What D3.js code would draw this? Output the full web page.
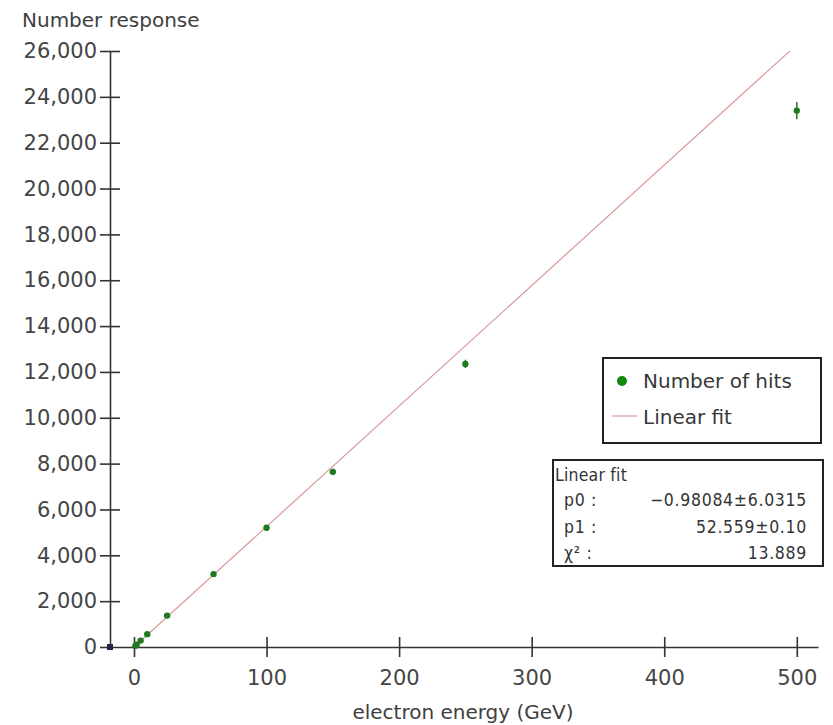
<!DOCTYPE html>
<html>
<head>
<meta charset="utf-8">
<script src="https://cdn.jsdelivr.net/npm/d3@7"></script>
<style>
  html, body { margin: 0; padding: 0; background: #fff; }
  svg { display: block; }
  .tick-label { font-family: "DejaVu Sans", sans-serif; font-size: 21px; fill: #454545; }
  .axis-title { font-family: "DejaVu Sans", sans-serif; font-size: 20px; fill: #404040; }
  .legend-text { font-family: "DejaVu Sans", sans-serif; font-size: 20px; fill: #383838; }
  .fit-text { font-family: "DejaVu Sans Condensed", "DejaVu Sans", sans-serif; font-stretch: condensed; font-size: 17.5px; letter-spacing: 0.7px; fill: #333; }
  .fit-title { letter-spacing: 0.2px; }
</style>
</head>
<body>
<svg id="chart" width="833" height="725"></svg>
<script>
// Beam energies (GeV) and measured number of hits with uncertainties
const energies = [1, 2, 5, 10, 25, 60, 100, 150, 250, 500];
const hits     = [50, 105, 280, 560, 1370, 3180, 5200, 7640, 12350, 23400];
const hitErrors = [10, 15, 25, 35, 60, 90, 110, 140, 180, 380];

// Linear fit parameters reported in the statistics box
const fitP0 = -0.98084, fitP0Err = 6.0315;
const fitP1 = 52.559, fitP1Err = 0.10;
const fitChi2 = 13.889;
const fitRange = [0, 500];

const xTicks = [0, 100, 200, 300, 400, 500];
const yTicks = [0, 2000, 4000, 6000, 8000, 10000, 12000, 14000, 16000, 18000, 20000, 22000, 24000, 26000];

const svg = d3.select("#chart");

const x = d3.scaleLinear().domain([-18.1, 516]).range([110, 818]);
const y = d3.scaleLinear().domain([0, 26000]).range([647, 51]);

const axisColor = "#333";
const fmt = d3.format(",");

// Plot area clip so the fit line stops at the top of the y range
svg.append("defs").append("clipPath").attr("id", "plot-area")
  .append("rect")
  .attr("x", x.range()[0]).attr("y", y.range()[1])
  .attr("width", x.range()[1] - x.range()[0])
  .attr("height", y.range()[0] - y.range()[1]);

// Y axis
const yAxis = svg.append("g").attr("transform", `translate(${x.range()[0]},0)`)
  .call(d3.axisLeft(y).tickValues(yTicks).tickSizeInner(10).tickSizeOuter(0).tickFormat(fmt));
yAxis.select(".domain").attr("stroke", axisColor).attr("stroke-width", 1.6);
yAxis.selectAll(".tick line").attr("stroke", axisColor).attr("stroke-width", 1.6).attr("x2", 10).attr("x1", -10);
yAxis.selectAll(".tick line").filter(d => d === 0).attr("x2", 0);
yAxis.selectAll(".tick text").attr("class", "tick-label").attr("x", -13).attr("font-size", null).attr("font-family", null);
yAxis.attr("font-size", null).attr("font-family", null);

// X axis
const xAxis = svg.append("g").attr("transform", `translate(0,${y(0)})`)
  .call(d3.axisBottom(x).tickValues(xTicks).tickSizeInner(10).tickSizeOuter(0).tickFormat(d3.format("d")));
xAxis.select(".domain").attr("stroke", axisColor).attr("stroke-width", 1.6);
xAxis.selectAll(".tick line").attr("stroke", axisColor).attr("stroke-width", 1.6).attr("y1", -10).attr("y2", 10);
xAxis.selectAll(".tick text").attr("class", "tick-label").attr("y", 23).attr("dy", "0.71em").attr("font-size", null).attr("font-family", null);
xAxis.attr("font-size", null).attr("font-family", null);

// Corner marker at the axes origin
svg.append("rect")
  .attr("x", x.range()[0] - 3).attr("y", y(0) - 3)
  .attr("width", 6).attr("height", 6)
  .attr("fill", "#22224a");

// Axis titles
svg.append("text").attr("class", "axis-title").attr("x", 22).attr("y", 27).text("Number response");
svg.append("text").attr("class", "axis-title").attr("x", 463).attr("y", 719)
  .attr("text-anchor", "middle").text("electron energy (GeV)");

// Linear fit line
const fitLine = d3.line().x(d => x(d)).y(d => y(fitP0 + fitP1 * d));
svg.append("path")
  .datum(fitRange)
  .attr("d", fitLine)
  .attr("clip-path", "url(#plot-area)")
  .attr("fill", "none")
  .attr("stroke", "#d99a9a")
  .attr("stroke-width", 1.2);

// Data points with error bars
const pts = energies.map((e, i) => ({ e, v: hits[i], err: hitErrors[i] }));
const pointColor = "#1f7a1f";
svg.append("g").selectAll("line").data(pts).join("line")
  .attr("x1", d => x(d.e)).attr("x2", d => x(d.e))
  .attr("y1", d => y(d.v - d.err)).attr("y2", d => y(d.v + d.err))
  .attr("stroke", pointColor).attr("stroke-width", 1.5);
svg.append("g").selectAll("circle").data(pts).join("circle")
  .attr("cx", d => x(d.e)).attr("cy", d => y(d.v))
  .attr("r", 3.2)
  .attr("fill", pointColor);

// Legend
const legend = svg.append("g");
legend.append("rect").attr("x", 603).attr("y", 358).attr("width", 218).attr("height", 85)
  .attr("fill", "#fff").attr("stroke", "#222").attr("stroke-width", 2);
legend.append("circle").attr("cx", 622).attr("cy", 381).attr("r", 5).attr("fill", "#108a10");
legend.append("text").attr("class", "legend-text").attr("x", 643).attr("y", 388).text("Number of hits");
legend.append("line").attr("x1", 612).attr("x2", 637).attr("y1", 416).attr("y2", 416)
  .attr("stroke", "#d99a9a").attr("stroke-width", 1.2);
legend.append("text").attr("class", "legend-text").attr("x", 643).attr("y", 424).text("Linear fit");

// Fit statistics box
const stats = svg.append("g");
stats.append("rect").attr("x", 553).attr("y", 460).attr("width", 270).attr("height", 106)
  .attr("fill", "#fff").attr("stroke", "#222").attr("stroke-width", 2);
stats.append("text").attr("class", "fit-text fit-title").attr("x", 555).attr("y", 481).text("Linear fit");
const rows = [
  { name: "p0 :", value: `${fitP0}±${fitP0Err}`.replace("-", "\u2212") },
  { name: "p1 :", value: `${fitP1}±${fitP1Err.toFixed(2)}` },
  { name: "\u03c7\u00b2 :", value: `${fitChi2}` }
];
rows.forEach((r, i) => {
  const by = 506 + i * 26.5;
  stats.append("text").attr("class", "fit-text").attr("x", 564).attr("y", by).text(r.name);
  stats.append("text").attr("class", "fit-text").attr("x", 807).attr("y", by)
    .attr("text-anchor", "end").text(r.value);
});
</script>
</body>
</html>
